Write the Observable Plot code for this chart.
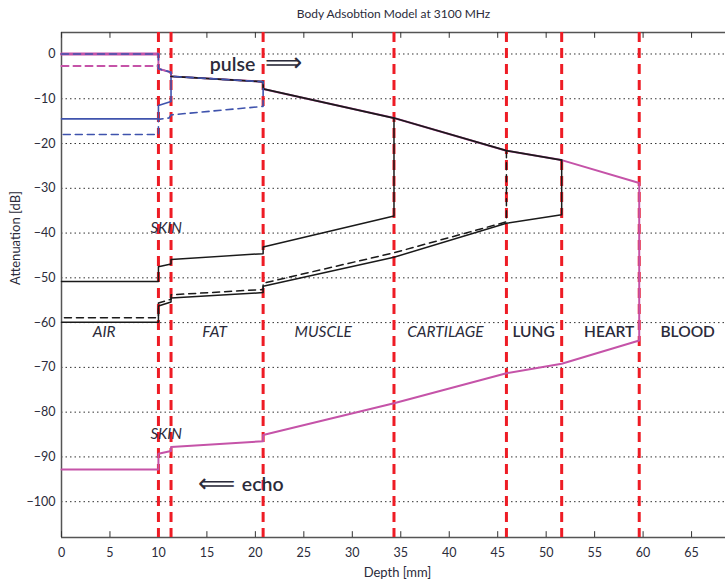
<!DOCTYPE html>
<html>
<head>
<meta charset="utf-8">
<script src="https://cdn.jsdelivr.net/npm/d3@7"></script>
<script src="https://cdn.jsdelivr.net/npm/@observablehq/plot@0.6"></script>
<style>
  html, body { margin: 0; padding: 0; background: #fff; }
  #chart svg { display: block; }
</style>
</head>
<body>
<div id="chart"></div>
<script>
// ---- data ----
const titleText = "Body Adsobtion Model at 3100 MHz";
const xLabel = "Depth [mm]";
const yLabel = "Attenuation [dB]";
const xTicks = [0, 5, 10, 15, 20, 25, 30, 35, 40, 45, 50, 55, 60, 65];
const yTicks = [0, -10, -20, -30, -40, -50, -60, -70, -80, -90, -100];
const boundaries = [10, 11.3, 20.8, 34.3, 45.9, 51.6, 59.6];

const blueSolid = [[10,-3.3],[11.3,-4.1],[11.3,-10.6],[10,-11.5],[10,-14.5],[0,-14.5]];
const blueDashed = [[0,0],[10,0],[10,-3.3],[11.3,-4.1],[11.3,-5.0],[20.8,-6.2],[20.8,-11.7],[11.3,-13.6],[11.1,-14.3],[10,-14.6],[10,-18.0],[0,-18.0]];
const magentaSolid = [[0,0],[10,0],[10,-3.3],[11.3,-4.1],[11.3,-5.0],[20.8,-6.2],[20.8,-7.8],[34.3,-14.3],[45.9,-21.6],[51.6,-23.7],[59.6,-28.8],[59.6,-64.0],[51.6,-69.2],[45.9,-71.3],[34.3,-78.0],[20.8,-85.1],[20.8,-86.5],[11.3,-87.8],[11.3,-88.7],[10,-89.3],[10,-92.8],[0,-92.8]];
const magentaDashed = [[0,-2.7],[10,-2.7]];
const blackPulse = [[11.3,-5.0],[20.8,-6.2],[20.8,-7.8],[34.3,-14.3],[45.9,-21.6],[51.6,-23.7]];
const blackEcho1 = [[34.3,-14.3],[34.3,-36.2],[20.8,-43.1],[20.8,-44.6],[11.3,-45.9],[11.3,-46.9],[10,-47.5],[10,-50.8],[0,-50.8]];
const blackEcho2 = [[51.6,-23.7],[51.6,-35.9],[45.9,-37.8],[34.3,-45.4],[20.8,-51.9],[20.8,-53.3],[11.3,-54.5],[11.3,-55.4],[10,-56.3],[10,-59.9],[0,-59.9]];
const blackEchoDashed = [[45.9,-21.6],[45.9,-37.5],[34.3,-44.4],[20.8,-51.2],[20.8,-52.6],[11.3,-53.8],[11.3,-54.8],[10,-55.6],[10,-58.9],[0,-58.9]];

const italicRegions = ["AIR", "FAT", "MUSCLE", "CARTILAGE"];
const italicRegionX = [4.4, 15.8, 27.0, 39.6];
const uprightRegions = ["LUNG", "HEART", "BLOOD"];
const uprightRegionX = [48.7, 56.5, 64.6];
const regionY = -62.1;
const skinLabels = ["SKIN", "SKIN"];
const skinX = [10.8, 10.8];
const skinY = [-38.8, -85.0];
const wordLabels = ["pulse", "echo"];
const wordX = [15.3, 18.6];
const wordY = [-2.4, -96.3];
const arrowGlyphs = ["\u27F9", "\u27F8"];
const arrowX = [22.9, 16.0];
const arrowY = [-1.9, -96.0];

// ---- build ----
const xDomain = [0, 68.5];
const yDomain = [-108, 4.8];
const pts = a => a.map(([x, y]) => ({x, y}));
const txt = "#2b2b3a";
const magenta = "#c553a8";
const blue = "#3f53ad";

const chart = Plot.plot({
  width: 725,
  height: 580,
  marginLeft: 61,
  marginRight: 0,
  marginTop: 32,
  marginBottom: 43,
  style: {fontFamily: "Lato, 'Open Sans', sans-serif", fontSize: "12.5px", color: txt, background: "#fff"},
  x: {domain: xDomain},
  y: {domain: yDomain},
  marks: [
    // grid
    Plot.ruleY(yTicks, {stroke: "#333", strokeWidth: 1, strokeDasharray: "1.5,3"}),
    // axes lines
    Plot.ruleX([0], {stroke: "#555", strokeWidth: 1.5}),
    Plot.ruleY([yDomain[0]], {stroke: "#555", strokeWidth: 1.5}),
    Plot.ruleY([yDomain[1]], {stroke: "#555", strokeWidth: 1.5}),
    // inward ticks
    Plot.ruleX(xTicks, {y1: yDomain[0], y2: yDomain[0] + 1.3, stroke: "#333", strokeWidth: 1}),
    Plot.ruleX(xTicks, {y1: yDomain[1], y2: yDomain[1] - 1.3, stroke: "#333", strokeWidth: 1}),
    Plot.axisX(xTicks, {anchor: "bottom", tickSize: 0, tickPadding: 11, label: null, fill: txt}),
    Plot.axisY(yTicks, {anchor: "left", tickSize: 0, tickPadding: 6, label: null, fill: txt}),
    // red boundaries
    Plot.ruleX(boundaries, {stroke: "#ee1c25", strokeWidth: 3, strokeDasharray: "10,6"}),
    // curves
    Plot.line(pts(blueSolid), {x: "x", y: "y", stroke: blue, strokeWidth: 1.6}),
    Plot.line(pts(magentaSolid), {x: "x", y: "y", stroke: magenta, strokeWidth: 2}),
    Plot.line(pts(magentaSolid).slice(0, 2), {x: "x", y: "y", stroke: magenta, strokeWidth: 3}),
    Plot.line(pts(magentaDashed), {x: "x", y: "y", stroke: magenta, strokeWidth: 2, strokeDasharray: "7,5"}),
    Plot.line(pts(blackPulse), {x: "x", y: "y", stroke: "#1a1a1a", strokeWidth: 1.8}),
    Plot.line(pts(blackEcho1), {x: "x", y: "y", stroke: "#1a1a1a", strokeWidth: 1.5}),
    Plot.line(pts(blackEcho2), {x: "x", y: "y", stroke: "#1a1a1a", strokeWidth: 1.5}),
    Plot.line(pts(blackEchoDashed), {x: "x", y: "y", stroke: "#1a1a1a", strokeWidth: 1.5, strokeDasharray: "7,5"}),
    Plot.line(pts(blueDashed), {x: "x", y: "y", stroke: blue, strokeWidth: 1.6, strokeDasharray: "7,5"}),
    // labels
    Plot.text(italicRegions, {x: (d, i) => italicRegionX[i], y: () => regionY, text: d => d, fontSize: 15.5, fontStyle: "italic", fill: txt}),
    Plot.text(uprightRegions, {x: (d, i) => uprightRegionX[i], y: () => regionY, text: d => d, fontSize: 15.5, fontWeight: 600, fill: txt}),
    Plot.text(skinLabels, {x: (d, i) => skinX[i], y: (d, i) => skinY[i], text: d => d, fontSize: 15, fontStyle: "italic", fill: txt}),
    Plot.text(wordLabels, {x: (d, i) => wordX[i], y: (d, i) => wordY[i], text: d => d, textAnchor: "start", fontSize: 19.5, fontWeight: 600, fill: txt}),
    Plot.text(arrowGlyphs, {x: (d, i) => arrowX[i], y: (d, i) => arrowY[i], text: d => d, fontFamily: "'DejaVu Sans', sans-serif", fontSize: 26, fontWeight: 300, fill: txt}),
    // title and axis labels
    Plot.text([titleText], {frameAnchor: "top", dy: -18, lineAnchor: "middle", fontSize: 12, fill: txt}),
    Plot.text([xLabel], {frameAnchor: "bottom", dx: 4, dy: 35, lineAnchor: "middle", fontSize: 13, fill: txt}),
    Plot.text([yLabel], {frameAnchor: "left", dx: -46, rotate: -90, lineAnchor: "middle", fontSize: 13, fill: txt})
  ]
});
document.getElementById("chart").append(chart);
</script>
</body>
</html>
